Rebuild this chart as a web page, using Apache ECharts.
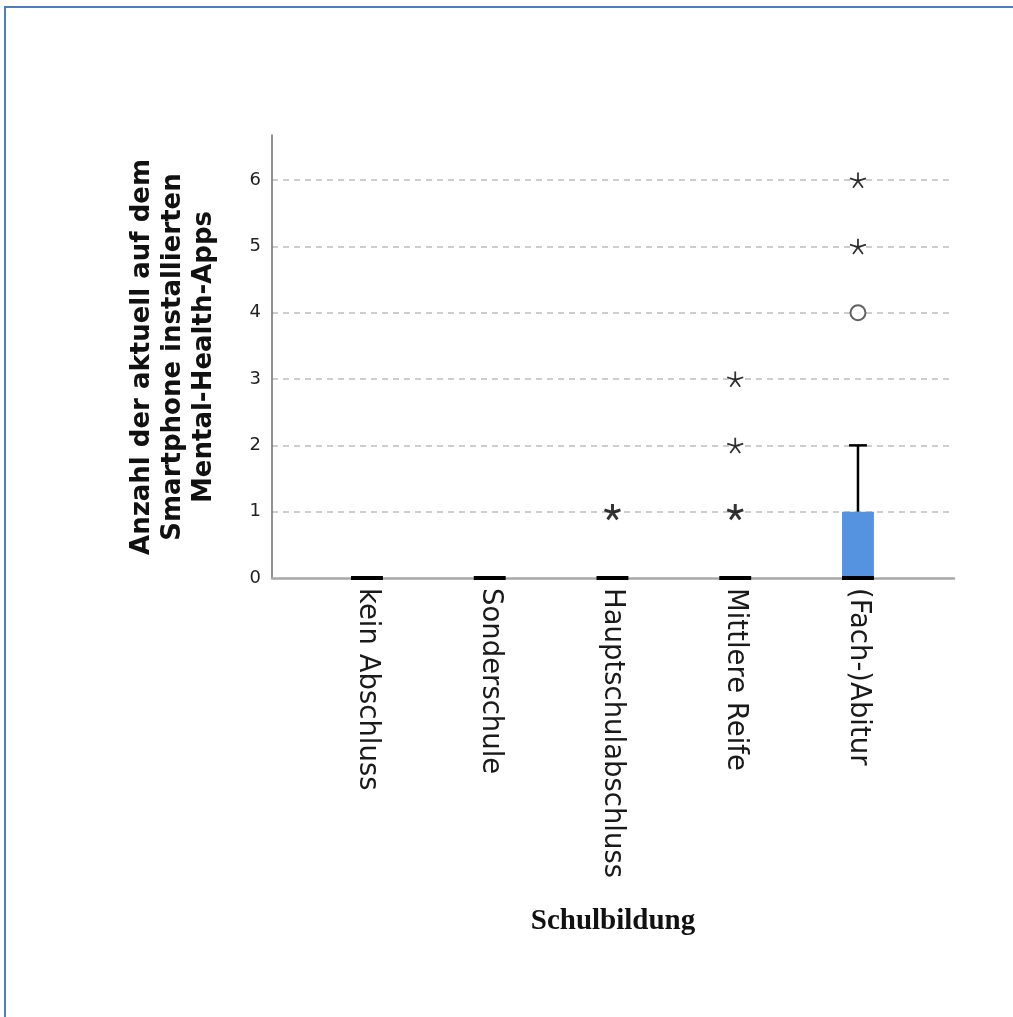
<!DOCTYPE html>
<html>
<head>
<meta charset="utf-8">
<title>Schulbildung – Mental-Health-Apps</title>
<script src="https://cdn.jsdelivr.net/npm/echarts@6/dist/echarts.min.js"></script>
<style>
  html, body { margin: 0; padding: 0; background: #fff; }
  #frame {
    position: absolute; left: 4px; top: 6px; right: 0; bottom: 0;
    border-left: 2px solid #4f7fbb; border-top: 2px solid #4f7fbb;
  }
  #chart { position: absolute; left: 0; top: 0; width: 1013px; height: 1017px; }
</style>
</head>
<body>
<div id="frame"></div>
<div id="chart"></div>
<script>
// Schulbildung categories
const categories = ['kein Abschluss', 'Sonderschule', 'Hauptschulabschluss', 'Mittlere Reife', '(Fach-)Abitur'];

// Box-plot statistics per category
const whiskerLow  = [0, 0, 0, 0, 0];
const quartile1   = [0, 0, 0, 0, 0];
const medians     = [0, 0, 0, 0, 0];
const quartile3   = [0, 0, 0, 0, 1];
const whiskerHigh = [0, 0, 0, 0, 2];

// Outliers (o) as [category index, value]
const outliers = [[4, 4]];
// Extreme values (*) as [category index, value] and how many cases share each point
const extremes     = [[2, 1], [3, 1], [3, 2], [3, 3], [4, 5], [4, 6]];
const extremeCases = [2, 2, 1, 1, 1, 1];

// Value axis
const yTicks = [0, 1, 2, 3, 4, 5, 6];
const yMax = 6.68;

const BOX_COLOR = '#5593e0';
const ASTERISK = 'path://M0,0L0,-1M0,0L0.951,-0.309M0,0L0.588,0.809M0,0L-0.588,0.809M0,0L-0.951,-0.309';

const chart = echarts.init(document.getElementById('chart'), null, { renderer: 'canvas' });

const boxData = categories.map((c, i) => [i, whiskerLow[i], quartile1[i], medians[i], quartile3[i], whiskerHigh[i]]);

function renderBox(params, api) {
  const i = api.value(0);
  const lo = api.value(1), q1 = api.value(2), med = api.value(3), q3 = api.value(4), hi = api.value(5);
  const band = api.size([1, 0])[0];
  const w = band * 0.26;
  const cap = band * 0.145;
  const cx = api.coord([i, 0])[0];
  const y = v => api.coord([i, v])[1];
  const children = [];
  if (q3 > q1) {
    children.push({ type: 'rect', shape: { x: cx - w / 2, y: y(q3), width: w, height: y(q1) - y(q3) },
      style: { fill: BOX_COLOR } });
  }
  if (hi > q3) {
    children.push({ type: 'line', shape: { x1: cx, y1: y(q3), x2: cx, y2: y(hi) }, style: { stroke: '#000', lineWidth: 2.5 } });
    children.push({ type: 'line', shape: { x1: cx - cap / 2, y1: y(hi), x2: cx + cap / 2, y2: y(hi) }, style: { stroke: '#000', lineWidth: 2.5 } });
  }
  if (lo < q1) {
    children.push({ type: 'line', shape: { x1: cx, y1: y(q1), x2: cx, y2: y(lo) }, style: { stroke: '#000', lineWidth: 2.5 } });
    children.push({ type: 'line', shape: { x1: cx - cap / 2, y1: y(lo), x2: cx + cap / 2, y2: y(lo) }, style: { stroke: '#000', lineWidth: 2.5 } });
  }
  children.push({ type: 'line', shape: { x1: cx - w / 2, y1: y(med), x2: cx + w / 2, y2: y(med) },
    style: { stroke: '#000', lineWidth: 4 } });
  return { type: 'group', children };
}

const extremeData = extremes.map((p, k) => ({
  value: p,
  itemStyle: { borderWidth: extremeCases[k] > 1 ? 3 : 1.8 }
}));

const option = {
  animation: false,
  grid: [
    { left: 272, top: 135, width: 682, height: 443 },
    { left: 305.6, top: 135, width: 613.75, height: 443 }
  ],
  xAxis: [
    {
      gridIndex: 0, type: 'value', min: 0, max: 1,
      axisLine: { show: true, lineStyle: { color: '#a8a8a8', width: 2.5 } },
      axisTick: { show: false }, axisLabel: { show: false }, splitLine: { show: false }
    },
    {
      gridIndex: 1, type: 'category', data: categories, boundaryGap: true,
      axisLine: { show: false }, axisTick: { show: false }, splitLine: { show: false },
      axisLabel: {
        rotate: -90, margin: 10, interval: 0, padding: [10, 0, 0, 0],
        fontFamily: 'DejaVu Sans', fontSize: 27.5, color: '#1a1a1a'
      }
    }
  ],
  yAxis: [
    {
      gridIndex: 0, type: 'value', min: 0, max: yMax, interval: 1,
      axisLine: { show: true, lineStyle: { color: '#6e6e6e', width: 1.5 } },
      axisTick: { show: false },
      axisLabel: {
        margin: 11, fontFamily: 'DejaVu Sans', fontSize: 18, color: '#222',
        showMaxLabel: false,
        formatter: v => (yTicks.indexOf(v) >= 0 ? String(v) : '')
      },
      splitLine: {
        show: true, showMinLine: false, showMaxLine: false,
        lineStyle: { color: '#bdbdbd', width: 1.5, type: [6, 5] }
      }
    },
    {
      gridIndex: 1, type: 'value', min: 0, max: yMax, show: false,
      splitLine: { show: false }
    }
  ],
  graphic: [
    {
      type: 'text', x: 173, y: 357, rotation: Math.PI / 2,
      style: {
        text: 'Anzahl der aktuell auf dem\nSmartphone installierten\nMental-Health-Apps',
        font: 'bold 26px "DejaVu Sans"', fill: '#111',
        textAlign: 'center', textVerticalAlign: 'middle', lineHeight: 31
      }
    },
    {
      type: 'text', x: 613, y: 922,
      style: {
        text: 'Schulbildung', font: 'bold 29px "Liberation Serif"', fill: '#111',
        textAlign: 'center', textVerticalAlign: 'middle'
      }
    }
  ],
  series: [
    {
      type: 'custom', xAxisIndex: 1, yAxisIndex: 1,
      renderItem: renderBox, data: boxData,
      encode: { x: 0, y: [1, 2, 3, 4, 5] }, z: 5
    },
    {
      type: 'scatter', xAxisIndex: 1, yAxisIndex: 1,
      data: outliers, symbol: 'circle', symbolSize: 15,
      itemStyle: { color: '#fff', borderColor: '#3a3a3a', borderWidth: 2 }, z: 6
    },
    {
      type: 'scatter', xAxisIndex: 1, yAxisIndex: 1,
      data: extremeData, symbol: ASTERISK, symbolSize: 16, symbolKeepAspect: true,
      itemStyle: { color: 'rgba(0,0,0,0)', borderColor: '#000', borderWidth: 1.8 }, z: 6
    }
  ]
};

chart.setOption(option);
</script>
</body>
</html>
